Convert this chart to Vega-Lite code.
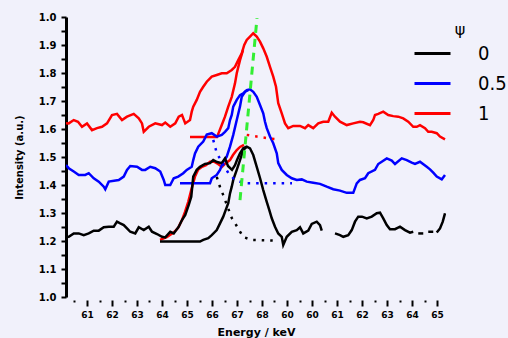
{
  "$schema": "https://vega.github.io/schema/vega-lite/v6.json",
  "autosize": {"type": "none"},
  "width": 380,
  "height": 280,
  "padding": {"left": 66, "top": 17, "right": 62, "bottom": 41},
  "background": "#f1f1fb",
  "config": {
    "view": {"stroke": null},
    "font": "DejaVu Sans"
  },
  "datasets": {
    "curves": [
      {"s":"1","t":"r","x":6.016,"y":1.621},{"s":"1","t":"r","x":6.027,"y":1.620},{"s":"1","t":"r","x":6.047,"y":1.632},{"s":"1","t":"r","x":6.064,"y":1.626},{"s":"1","t":"r","x":6.080,"y":1.608},{"s":"1","t":"r","x":6.100,"y":1.620},{"s":"1","t":"r","x":6.120,"y":1.596},{"s":"1","t":"r","x":6.140,"y":1.603},{"s":"1","t":"r","x":6.160,"y":1.608},{"s":"1","t":"r","x":6.180,"y":1.620},{"s":"1","t":"r","x":6.200,"y":1.650},{"s":"1","t":"r","x":6.220,"y":1.654},{"s":"1","t":"r","x":6.240,"y":1.632},{"s":"1","t":"r","x":6.260,"y":1.644},{"s":"1","t":"r","x":6.287,"y":1.654},{"s":"1","t":"r","x":6.307,"y":1.638},{"s":"1","t":"r","x":6.320,"y":1.620},{"s":"1","t":"r","x":6.327,"y":1.590},{"s":"1","t":"r","x":6.347,"y":1.608},{"s":"1","t":"r","x":6.373,"y":1.620},{"s":"1","t":"r","x":6.400,"y":1.614},{"s":"1","t":"r","x":6.413,"y":1.623},{"s":"1","t":"r","x":6.433,"y":1.608},{"s":"1","t":"r","x":6.453,"y":1.620},{"s":"1","t":"r","x":6.467,"y":1.644},{"s":"1","t":"r","x":6.480,"y":1.650},{"s":"1","t":"r","x":6.493,"y":1.620},{"s":"1","t":"r","x":6.512,"y":1.632},{"s":"1","t":"r","x":6.519,"y":1.662},{"s":"1","t":"r","x":6.525,"y":1.680},{"s":"1","t":"r","x":6.539,"y":1.704},{"s":"1","t":"r","x":6.552,"y":1.733},{"s":"1","t":"r","x":6.565,"y":1.751},{"s":"1","t":"r","x":6.579,"y":1.769},{"s":"1","t":"r","x":6.599,"y":1.787},{"s":"1","t":"r","x":6.619,"y":1.793},{"s":"1","t":"r","x":6.639,"y":1.799},{"s":"1","t":"r","x":6.659,"y":1.799},{"s":"1","t":"r","x":6.679,"y":1.811},{"s":"1","t":"r","x":6.692,"y":1.822},{"s":"1","t":"r","x":6.705,"y":1.846},{"s":"1","t":"r","x":6.719,"y":1.870},{"s":"1","t":"r","x":6.729,"y":1.900},{"s":"1","t":"r","x":6.739,"y":1.918},{"s":"1","t":"r","x":6.752,"y":1.930},{"s":"1","t":"r","x":6.765,"y":1.942},{"s":"1","t":"r","x":6.779,"y":1.930},{"s":"1","t":"r","x":6.792,"y":1.912},{"s":"1","t":"r","x":6.805,"y":1.888},{"s":"1","t":"r","x":6.819,"y":1.858},{"s":"1","t":"r","x":6.832,"y":1.822},{"s":"1","t":"r","x":6.845,"y":1.787},{"s":"1","t":"r","x":6.856,"y":1.751},{"s":"1","t":"r","x":6.865,"y":1.692},{"s":"1","t":"r","x":6.879,"y":1.656},{"s":"1","t":"r","x":6.892,"y":1.620},{"s":"1","t":"r","x":6.905,"y":1.603},{"s":"1","t":"r","x":6.925,"y":1.611},{"s":"1","t":"r","x":6.952,"y":1.611},{"s":"1","t":"r","x":6.972,"y":1.603},{"s":"1","t":"r","x":6.985,"y":1.614},{"s":"1","t":"r","x":7.005,"y":1.603},{"s":"1","t":"r","x":7.025,"y":1.620},{"s":"1","t":"r","x":7.045,"y":1.626},{"s":"1","t":"r","x":7.065,"y":1.626},{"s":"1","t":"r","x":7.079,"y":1.658},{"s":"1","t":"r","x":7.092,"y":1.644},{"s":"1","t":"r","x":7.112,"y":1.626},{"s":"1","t":"r","x":7.139,"y":1.614},{"s":"1","t":"r","x":7.165,"y":1.620},{"s":"1","t":"r","x":7.192,"y":1.626},{"s":"1","t":"r","x":7.205,"y":1.624},{"s":"1","t":"r","x":7.232,"y":1.614},{"s":"1","t":"r","x":7.245,"y":1.632},{"s":"1","t":"r","x":7.252,"y":1.650},{"s":"1","t":"r","x":7.265,"y":1.654},{"s":"1","t":"r","x":7.285,"y":1.662},{"s":"1","t":"r","x":7.305,"y":1.650},{"s":"1","t":"r","x":7.325,"y":1.646},{"s":"1","t":"r","x":7.345,"y":1.644},{"s":"1","t":"r","x":7.365,"y":1.638},{"s":"1","t":"r","x":7.385,"y":1.626},{"s":"1","t":"r","x":7.405,"y":1.608},{"s":"1","t":"r","x":7.419,"y":1.608},{"s":"1","t":"r","x":7.432,"y":1.614},{"s":"1","t":"r","x":7.452,"y":1.603},{"s":"1","t":"r","x":7.465,"y":1.590},{"s":"1","t":"r","x":7.479,"y":1.590},{"s":"1","t":"r","x":7.499,"y":1.585},{"s":"1","t":"r","x":7.512,"y":1.573},{"s":"1","t":"r","x":7.532,"y":1.563},

      {"s":"1","t":"rf1","x":6.512,"y":1.571},{"s":"1","t":"rf1","x":6.620,"y":1.571},{"s":"1","t":"rf1","x":6.639,"y":1.614},{"s":"1","t":"rf1","x":6.652,"y":1.644},{"s":"1","t":"rf1","x":6.665,"y":1.680},{"s":"1","t":"rf1","x":6.679,"y":1.715},{"s":"1","t":"rf1","x":6.692,"y":1.763},{"s":"1","t":"rf1","x":6.699,"y":1.799},{"s":"1","t":"rf1","x":6.712,"y":1.846},{"s":"1","t":"rf1","x":6.724,"y":1.882},

      {"s":"1","t":"rf2","x":6.392,"y":1.204},{"s":"1","t":"rf2","x":6.419,"y":1.214},{"s":"1","t":"rf2","x":6.445,"y":1.229},{"s":"1","t":"rf2","x":6.464,"y":1.246},{"s":"1","t":"rf2","x":6.480,"y":1.275},{"s":"1","t":"rf2","x":6.492,"y":1.304},{"s":"1","t":"rf2","x":6.505,"y":1.340},{"s":"1","t":"rf2","x":6.519,"y":1.389},{"s":"1","t":"rf2","x":6.532,"y":1.430},{"s":"1","t":"rf2","x":6.544,"y":1.454},{"s":"1","t":"rf2","x":6.560,"y":1.465},{"s":"1","t":"rf2","x":6.576,"y":1.471},{"s":"1","t":"rf2","x":6.592,"y":1.483},{"s":"1","t":"rf2","x":6.608,"y":1.483},{"s":"1","t":"rf2","x":6.624,"y":1.475},{"s":"1","t":"rf2","x":6.640,"y":1.465},{"s":"1","t":"rf2","x":6.656,"y":1.479},{"s":"1","t":"rf2","x":6.672,"y":1.489},{"s":"1","t":"rf2","x":6.684,"y":1.507},{"s":"1","t":"rf2","x":6.699,"y":1.525},{"s":"1","t":"rf2","x":6.712,"y":1.536},{"s":"1","t":"rf2","x":6.728,"y":1.543},

      {"s":"0.5","t":"b","x":6.016,"y":1.471},{"s":"0.5","t":"b","x":6.027,"y":1.460},{"s":"0.5","t":"b","x":6.047,"y":1.448},{"s":"0.5","t":"b","x":6.067,"y":1.436},{"s":"0.5","t":"b","x":6.093,"y":1.436},{"s":"0.5","t":"b","x":6.107,"y":1.442},{"s":"0.5","t":"b","x":6.127,"y":1.424},{"s":"0.5","t":"b","x":6.147,"y":1.412},{"s":"0.5","t":"b","x":6.167,"y":1.394},{"s":"0.5","t":"b","x":6.173,"y":1.385},{"s":"0.5","t":"b","x":6.187,"y":1.412},{"s":"0.5","t":"b","x":6.227,"y":1.418},{"s":"0.5","t":"b","x":6.247,"y":1.430},{"s":"0.5","t":"b","x":6.260,"y":1.454},{"s":"0.5","t":"b","x":6.273,"y":1.468},{"s":"0.5","t":"b","x":6.300,"y":1.465},{"s":"0.5","t":"b","x":6.320,"y":1.454},{"s":"0.5","t":"b","x":6.333,"y":1.454},{"s":"0.5","t":"b","x":6.353,"y":1.465},{"s":"0.5","t":"b","x":6.373,"y":1.460},{"s":"0.5","t":"b","x":6.393,"y":1.448},{"s":"0.5","t":"b","x":6.407,"y":1.418},{"s":"0.5","t":"b","x":6.413,"y":1.400},{"s":"0.5","t":"b","x":6.433,"y":1.400},{"s":"0.5","t":"b","x":6.447,"y":1.424},{"s":"0.5","t":"b","x":6.465,"y":1.430},{"s":"0.5","t":"b","x":6.485,"y":1.442},{"s":"0.5","t":"b","x":6.499,"y":1.454},{"s":"0.5","t":"b","x":6.519,"y":1.465},{"s":"0.5","t":"b","x":6.525,"y":1.489},{"s":"0.5","t":"b","x":6.532,"y":1.513},{"s":"0.5","t":"b","x":6.545,"y":1.537},{"s":"0.5","t":"b","x":6.565,"y":1.555},{"s":"0.5","t":"b","x":6.579,"y":1.580},{"s":"0.5","t":"b","x":6.599,"y":1.585},{"s":"0.5","t":"b","x":6.619,"y":1.573},{"s":"0.5","t":"b","x":6.639,"y":1.579},{"s":"0.5","t":"b","x":6.652,"y":1.590},{"s":"0.5","t":"b","x":6.665,"y":1.603},{"s":"0.5","t":"b","x":6.672,"y":1.632},{"s":"0.5","t":"b","x":6.679,"y":1.650},{"s":"0.5","t":"b","x":6.685,"y":1.680},{"s":"0.5","t":"b","x":6.699,"y":1.704},{"s":"0.5","t":"b","x":6.712,"y":1.721},{"s":"0.5","t":"b","x":6.725,"y":1.727},{"s":"0.5","t":"b","x":6.739,"y":1.739},{"s":"0.5","t":"b","x":6.752,"y":1.742},{"s":"0.5","t":"b","x":6.765,"y":1.733},{"s":"0.5","t":"b","x":6.779,"y":1.715},{"s":"0.5","t":"b","x":6.792,"y":1.686},{"s":"0.5","t":"b","x":6.805,"y":1.656},{"s":"0.5","t":"b","x":6.812,"y":1.626},{"s":"0.5","t":"b","x":6.819,"y":1.603},{"s":"0.5","t":"b","x":6.832,"y":1.573},{"s":"0.5","t":"b","x":6.845,"y":1.549},{"s":"0.5","t":"b","x":6.859,"y":1.513},{"s":"0.5","t":"b","x":6.865,"y":1.478},{"s":"0.5","t":"b","x":6.879,"y":1.454},{"s":"0.5","t":"b","x":6.899,"y":1.436},{"s":"0.5","t":"b","x":6.919,"y":1.424},{"s":"0.5","t":"b","x":6.939,"y":1.418},{"s":"0.5","t":"b","x":6.959,"y":1.420},{"s":"0.5","t":"b","x":6.979,"y":1.412},{"s":"0.5","t":"b","x":7.005,"y":1.408},{"s":"0.5","t":"b","x":7.032,"y":1.404},{"s":"0.5","t":"b","x":7.059,"y":1.394},{"s":"0.5","t":"b","x":7.085,"y":1.385},{"s":"0.5","t":"b","x":7.112,"y":1.380},{"s":"0.5","t":"b","x":7.139,"y":1.372},{"s":"0.5","t":"b","x":7.165,"y":1.372},{"s":"0.5","t":"b","x":7.179,"y":1.406},{"s":"0.5","t":"b","x":7.192,"y":1.418},{"s":"0.5","t":"b","x":7.212,"y":1.424},{"s":"0.5","t":"b","x":7.225,"y":1.442},{"s":"0.5","t":"b","x":7.252,"y":1.454},{"s":"0.5","t":"b","x":7.265,"y":1.475},{"s":"0.5","t":"b","x":7.299,"y":1.495},{"s":"0.5","t":"b","x":7.319,"y":1.487},{"s":"0.5","t":"b","x":7.332,"y":1.475},{"s":"0.5","t":"b","x":7.359,"y":1.495},{"s":"0.5","t":"b","x":7.379,"y":1.489},{"s":"0.5","t":"b","x":7.399,"y":1.480},{"s":"0.5","t":"b","x":7.412,"y":1.475},{"s":"0.5","t":"b","x":7.432,"y":1.483},{"s":"0.5","t":"b","x":7.459,"y":1.465},{"s":"0.5","t":"b","x":7.472,"y":1.456},{"s":"0.5","t":"b","x":7.485,"y":1.444},{"s":"0.5","t":"b","x":7.499,"y":1.430},{"s":"0.5","t":"b","x":7.519,"y":1.420},{"s":"0.5","t":"b","x":7.532,"y":1.436},

      {"s":"0.5","t":"bf","x":6.472,"y":1.406},{"s":"0.5","t":"bf","x":6.592,"y":1.406},{"s":"0.5","t":"bf","x":6.599,"y":1.424},{"s":"0.5","t":"bf","x":6.619,"y":1.436},{"s":"0.5","t":"bf","x":6.632,"y":1.454},{"s":"0.5","t":"bf","x":6.645,"y":1.483},{"s":"0.5","t":"bf","x":6.659,"y":1.501},{"s":"0.5","t":"bf","x":6.672,"y":1.537},{"s":"0.5","t":"bf","x":6.685,"y":1.579},{"s":"0.5","t":"bf","x":6.699,"y":1.632},{"s":"0.5","t":"bf","x":6.712,"y":1.680},{"s":"0.5","t":"bf","x":6.719,"y":1.715},{"s":"0.5","t":"bf","x":6.732,"y":1.733},{"s":"0.5","t":"bf","x":6.745,"y":1.739},

      {"s":"0","t":"k1","x":6.016,"y":1.214},{"s":"0","t":"k1","x":6.027,"y":1.215},{"s":"0","t":"k1","x":6.047,"y":1.227},{"s":"0","t":"k1","x":6.067,"y":1.227},{"s":"0","t":"k1","x":6.087,"y":1.221},{"s":"0","t":"k1","x":6.107,"y":1.227},{"s":"0","t":"k1","x":6.127,"y":1.237},{"s":"0","t":"k1","x":6.147,"y":1.237},{"s":"0","t":"k1","x":6.167,"y":1.249},{"s":"0","t":"k1","x":6.187,"y":1.251},{"s":"0","t":"k1","x":6.207,"y":1.251},{"s":"0","t":"k1","x":6.220,"y":1.269},{"s":"0","t":"k1","x":6.233,"y":1.263},{"s":"0","t":"k1","x":6.247,"y":1.257},{"s":"0","t":"k1","x":6.260,"y":1.245},{"s":"0","t":"k1","x":6.273,"y":1.233},{"s":"0","t":"k1","x":6.293,"y":1.227},{"s":"0","t":"k1","x":6.307,"y":1.249},{"s":"0","t":"k1","x":6.327,"y":1.239},{"s":"0","t":"k1","x":6.347,"y":1.251},{"s":"0","t":"k1","x":6.360,"y":1.233},{"s":"0","t":"k1","x":6.380,"y":1.225},{"s":"0","t":"k1","x":6.400,"y":1.215},{"s":"0","t":"k1","x":6.413,"y":1.213},{"s":"0","t":"k1","x":6.433,"y":1.233},{"s":"0","t":"k1","x":6.447,"y":1.227},{"s":"0","t":"k1","x":6.467,"y":1.251},{"s":"0","t":"k1","x":6.480,"y":1.275},{"s":"0","t":"k1","x":6.493,"y":1.293},{"s":"0","t":"k1","x":6.507,"y":1.329},{"s":"0","t":"k1","x":6.517,"y":1.358},{"s":"0","t":"k1","x":6.525,"y":1.430},{"s":"0","t":"k1","x":6.539,"y":1.454},{"s":"0","t":"k1","x":6.552,"y":1.465},{"s":"0","t":"k1","x":6.572,"y":1.475},{"s":"0","t":"k1","x":6.592,"y":1.478},{"s":"0","t":"k1","x":6.605,"y":1.489},{"s":"0","t":"k1","x":6.620,"y":1.482},{"s":"0","t":"k1","x":6.639,"y":1.478},{"s":"0","t":"k1","x":6.652,"y":1.495},{"s":"0","t":"k1","x":6.664,"y":1.468},{"s":"0","t":"k1","x":6.680,"y":1.454},{"s":"0","t":"k1","x":6.692,"y":1.471},{"s":"0","t":"k1","x":6.700,"y":1.489},{"s":"0","t":"k1","x":6.712,"y":1.513},{"s":"0","t":"k1","x":6.725,"y":1.531},{"s":"0","t":"k1","x":6.739,"y":1.537},{"s":"0","t":"k1","x":6.752,"y":1.531},{"s":"0","t":"k1","x":6.765,"y":1.507},{"s":"0","t":"k1","x":6.779,"y":1.465},{"s":"0","t":"k1","x":6.792,"y":1.425},{"s":"0","t":"k1","x":6.805,"y":1.382},{"s":"0","t":"k1","x":6.819,"y":1.340},{"s":"0","t":"k1","x":6.829,"y":1.311},{"s":"0","t":"k1","x":6.839,"y":1.281},{"s":"0","t":"k1","x":6.852,"y":1.251},{"s":"0","t":"k1","x":6.865,"y":1.227},{"s":"0","t":"k1","x":6.879,"y":1.215},{"s":"0","t":"k1","x":6.885,"y":1.186},{"s":"0","t":"k1","x":6.899,"y":1.215},{"s":"0","t":"k1","x":6.919,"y":1.233},{"s":"0","t":"k1","x":6.939,"y":1.239},{"s":"0","t":"k1","x":6.952,"y":1.249},{"s":"0","t":"k1","x":6.965,"y":1.227},{"s":"0","t":"k1","x":6.985,"y":1.237},{"s":"0","t":"k1","x":6.999,"y":1.261},{"s":"0","t":"k1","x":7.019,"y":1.269},{"s":"0","t":"k1","x":7.032,"y":1.257},{"s":"0","t":"k1","x":7.039,"y":1.237},
      {"s":"0","t":"k2","x":7.092,"y":1.227},{"s":"0","t":"k2","x":7.112,"y":1.221},{"s":"0","t":"k2","x":7.125,"y":1.215},{"s":"0","t":"k2","x":7.145,"y":1.221},{"s":"0","t":"k2","x":7.159,"y":1.239},{"s":"0","t":"k2","x":7.172,"y":1.269},{"s":"0","t":"k2","x":7.185,"y":1.287},{"s":"0","t":"k2","x":7.200,"y":1.287},{"s":"0","t":"k2","x":7.219,"y":1.281},{"s":"0","t":"k2","x":7.239,"y":1.287},{"s":"0","t":"k2","x":7.259,"y":1.299},{"s":"0","t":"k2","x":7.272,"y":1.301},{"s":"0","t":"k2","x":7.285,"y":1.281},{"s":"0","t":"k2","x":7.299,"y":1.257},{"s":"0","t":"k2","x":7.312,"y":1.242},{"s":"0","t":"k2","x":7.332,"y":1.242},{"s":"0","t":"k2","x":7.352,"y":1.251},{"s":"0","t":"k2","x":7.372,"y":1.239},{"s":"0","t":"k2","x":7.392,"y":1.230},{"s":"0","t":"k2","x":7.405,"y":1.233},
      {"s":"0","t":"k3","x":7.425,"y":1.227},{"s":"0","t":"k3","x":7.445,"y":1.227},
      {"s":"0","t":"k4","x":7.465,"y":1.233},{"s":"0","t":"k4","x":7.485,"y":1.233},
      {"s":"0","t":"k5","x":7.499,"y":1.230},{"s":"0","t":"k5","x":7.512,"y":1.245},{"s":"0","t":"k5","x":7.523,"y":1.269},{"s":"0","t":"k5","x":7.532,"y":1.299},

      {"s":"0","t":"kf","x":6.392,"y":1.198},{"s":"0","t":"kf","x":6.552,"y":1.198},{"s":"0","t":"kf","x":6.565,"y":1.204},{"s":"0","t":"kf","x":6.585,"y":1.210},{"s":"0","t":"kf","x":6.599,"y":1.221},{"s":"0","t":"kf","x":6.619,"y":1.239},{"s":"0","t":"kf","x":6.632,"y":1.263},{"s":"0","t":"kf","x":6.645,"y":1.287},{"s":"0","t":"kf","x":6.655,"y":1.311},{"s":"0","t":"kf","x":6.665,"y":1.335},{"s":"0","t":"kf","x":6.672,"y":1.370},{"s":"0","t":"kf","x":6.679,"y":1.394},{"s":"0","t":"kf","x":6.685,"y":1.418},{"s":"0","t":"kf","x":6.699,"y":1.454},{"s":"0","t":"kf","x":6.712,"y":1.489},{"s":"0","t":"kf","x":6.725,"y":1.525},{"s":"0","t":"kf","x":6.739,"y":1.537}
    ],
    "dots": [
      {"s":"1","t":"rd","x":6.739,"y":1.579},{"s":"1","t":"rd","x":6.779,"y":1.573},{"s":"1","t":"rd","x":6.832,"y":1.566},{"s":"1","t":"rd","x":6.872,"y":1.563},
      {"s":"0.5","t":"bd","x":6.605,"y":1.561},{"s":"0.5","t":"bd","x":6.619,"y":1.514},{"s":"0.5","t":"bd","x":6.665,"y":1.443},{"s":"0.5","t":"bd","x":6.692,"y":1.418},{"s":"0.5","t":"bd","x":6.732,"y":1.406},{"s":"0.5","t":"bd","x":6.920,"y":1.406},
      {"s":"0","t":"kd","x":6.619,"y":1.429},{"s":"0","t":"kd","x":6.632,"y":1.393},{"s":"0","t":"kd","x":6.645,"y":1.364},{"s":"0","t":"kd","x":6.679,"y":1.282},{"s":"0","t":"kd","x":6.692,"y":1.264},{"s":"0","t":"kd","x":6.725,"y":1.214},{"s":"0","t":"kd","x":6.759,"y":1.204},{"s":"0","t":"kd","x":6.859,"y":1.201}
    ],
    "guide": [
      {"x":6.780,"y":1.996},{"x":6.712,"y":1.346}
    ]
  },
  "layer": [
    {
      "data": {"name": "curves"},
      "mark": {"type": "line", "strokeWidth": 2.5, "clip": true},
      "encoding": {
        "x": {
          "field": "x", "type": "quantitative",
          "scale": {"domain": [6.016, 7.536], "nice": false, "zero": false},
          "axis": {
            "title": "Energy / keV",
            "domain": false,
            "grid": false,
            "offset": 3,
            "tickCount": 100,
            "labelOverlap": false,
            "labelFlush": false,
            "values": [6.05,6.1,6.15,6.2,6.25,6.3,6.35,6.4,6.45,6.5,6.55,6.6,6.65,6.7,6.75,6.8,6.85,6.9,6.95,7.0,7.05,7.1,7.15,7.2,7.25,7.3,7.35,7.4,7.45,7.5],
            "labelExpr": "abs(datum.value*10 - round(datum.value*10)) < 0.001 ? ['61','62','63','64','65','66','67','68','60','60','61','62','63','64','65'][round(datum.value*10)-61] : ''",
            "tickColor": "black",
            "tickWidth": 2,
            "tickSize": {"condition": {"test": "abs(datum.value*10 - round(datum.value*10)) < 0.001", "value": 6}, "value": 2},
            "labelFontSize": 9,
            "labelFontWeight": "bold",
            "labelColor": "black",
            "labelPadding": 4,
            "titleFontSize": 11,
            "titleFontWeight": "bold",
            "titleColor": "black",
            "titlePadding": 7
          }
        },
        "y": {
          "field": "y", "type": "quantitative",
          "scale": {"domain": [1.0, 2.0], "nice": false, "zero": false},
          "axis": {
            "title": "Intensity (a.u.)",
            "grid": false,
            "domainColor": "black",
            "domainWidth": 3,
            "tickCount": 100,
            "labelOverlap": false,
            "labelFlush": false,
            "values": [1.0,1.05,1.1,1.15,1.2,1.25,1.3,1.35,1.4,1.45,1.5,1.55,1.6,1.65,1.7,1.75,1.8,1.85,1.9,1.95,2.0],
            "labelExpr": "abs(datum.value*10 - round(datum.value*10)) < 0.001 ? (datum.value > 1.999 ? '1.0' : format(datum.value, '.1f')) : ''",
            "tickColor": "black",
            "tickWidth": 2,
            "tickSize": 5,
            "labelFontSize": 10,
            "labelFontWeight": "bold",
            "labelColor": "black",
            "labelPadding": 5,
            "titleFontSize": 10,
            "titleFontWeight": "bold",
            "titleColor": "black",
            "titlePadding": 14
          }
        },
        "color": {
          "field": "s", "type": "nominal",
          "scale": {"domain": ["0", "0.5", "1"], "range": ["#000000", "#0000ff", "#ff0000"]},
          "legend": {
            "title": "ψ",
            "orient": "none",
            "legendX": 347,
            "legendY": 5,
            "symbolType": "stroke",
            "symbolSize": 1296,
            "symbolStrokeWidth": 3,
            "labelFontSize": 20,
            "labelFont": "Liberation Sans Narrow, DejaVu Sans Condensed, DejaVu Sans",
            "labelOffset": 26,
            "rowPadding": 0,
            "titleFontSize": 16,
            "titleFontWeight": "normal",
            "titleAnchor": "middle",
            "titleColor": "black",
            "labelColor": "black",
            "titlePadding": -4
          }
        },
        "detail": {"field": "t"}
      }
    },
    {
      "data": {"name": "dots"},
      "mark": {"type": "line", "strokeWidth": 2.5, "strokeDash": [2.5, 6], "clip": true},
      "encoding": {
        "x": {"field": "x", "type": "quantitative"},
        "y": {"field": "y", "type": "quantitative"},
        "color": {"field": "s", "type": "nominal"},
        "detail": {"field": "t"}
      }
    },
    {
      "data": {"name": "guide"},
      "mark": {"type": "line", "strokeWidth": 3, "strokeDash": [8, 6], "color": "#33ee33"},
      "encoding": {
        "x": {"field": "x", "type": "quantitative"},
        "y": {"field": "y", "type": "quantitative"}
      }
    }
  ]
}
